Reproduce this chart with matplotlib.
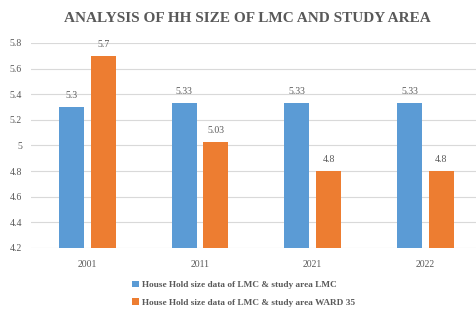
import matplotlib
matplotlib.use("Agg")
import matplotlib.pyplot as plt
import numpy as np

matplotlib.rcParams.update({
    "font.family": ["Liberation Serif", "DejaVu Serif"],
})

years = ["2001", "2011", "2021", "2022"]
lmc = [5.3, 5.33, 5.33, 5.33]
ward35 = [5.7, 5.03, 4.8, 4.8]
lmc_labels = ["5.3", "5.33", "5.33", "5.33"]
ward_labels = ["5.7", "5.03", "4.8", "4.8"]
yticks = [4.2, 4.4, 4.6, 4.8, 5.0, 5.2, 5.4, 5.6, 5.8]
ytick_labels = ["4.2", "4.4", "4.6", "4.8", "5", "5.2", "5.4", "5.6", "5.8"]

blue = "#5B9BD5"
orange = "#ED7D31"
txt = "#595959"

fig = plt.figure(figsize=(4.77, 3.11), dpi=100)
# plot area runs a little past the right edge, like the cropped original
ax = fig.add_axes([0.0648, 0.203, 0.945, 0.659])

x = np.arange(len(years))
w = 0.222
off = 0.141
b1 = ax.bar(x - off, [v - 4.2 for v in lmc], w, bottom=4.2, color=blue,
            label="House Hold size data of LMC & study area LMC")
b2 = ax.bar(x + off, [v - 4.2 for v in ward35], w, bottom=4.2, color=orange,
            label="House Hold size data of LMC & study area WARD 35")

for xi, v, s in zip(x - off, lmc, lmc_labels):
    ax.text(xi, v + 0.055, s, ha="center", va="bottom", fontsize=7, color=txt)
for xi, v, s in zip(x + off, ward35, ward_labels):
    ax.text(xi, v + 0.055, s, ha="center", va="bottom", fontsize=7, color=txt)

ax.set_ylim(4.2, 5.8)
ax.set_xlim(-0.5, 3.5)
ax.set_yticks(yticks)
ax.set_yticklabels(ytick_labels)
ax.set_xticks(x)
ax.set_xticklabels(years)
ax.tick_params(axis="both", length=0, labelsize=7, colors=txt)
ax.tick_params(axis="x", pad=9)
ax.tick_params(axis="y", pad=6.5)
ax.yaxis.grid(True, color="#D9D9D9", linewidth=0.8)
ax.set_axisbelow(True)
for s in ax.spines.values():
    s.set_visible(False)

fig.text(0.518, 0.939, "ANALYSIS OF HH SIZE OF LMC AND STUDY AREA",
         ha="center", va="center", fontsize=11, fontweight="bold", color=txt)

fig.legend(handles=[b1, b2], loc="upper left", bbox_to_anchor=(0.277, 0.097),
           ncol=1, frameon=False, handlelength=0.7, handleheight=0.7,
           labelcolor=txt, borderaxespad=0, handletextpad=0.4, labelspacing=0.95,
           borderpad=0, prop={"weight": "bold", "size": 6.7})

fig.savefig("out.png", dpi=100, facecolor="white")
